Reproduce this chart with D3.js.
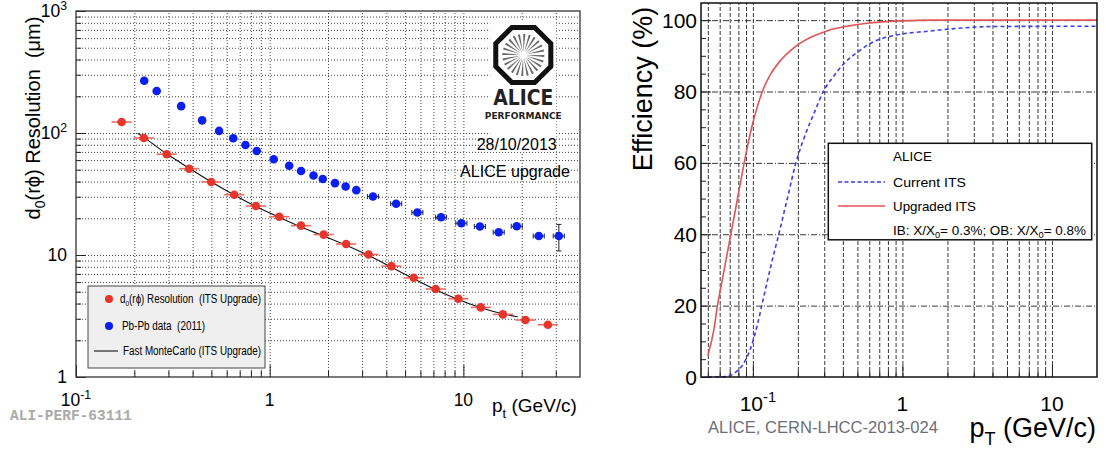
<!DOCTYPE html>
<html><head><meta charset="utf-8">
<script src="https://cdn.jsdelivr.net/npm/d3@7"></script>
<style>
body{margin:0;background:#fff;}
svg{display:block;font-family:"Liberation Sans",Arial,Helvetica,sans-serif;}
text{white-space:pre;}
</style>
</head><body><svg id="c" width="1106" height="460"></svg>
<script>
// ---------------- DATA ----------------
// Left panel: impact-parameter resolution vs pt
const leftXMajor = [0.1, 1, 10];
const leftXMajorBase = ["10", "1", "10"];
const leftXMajorExp = ["-1", "", ""];
const leftXMinor = [0.2,0.3,0.4,0.5,0.6,0.7,0.8,0.9,2,3,4,5,6,7,8,9,20,30];
const leftYMajor = [1, 10, 100, 1000];
const leftYMajorBase = ["1", "10", "10", "10"];
const leftYMajorExp = ["", "", "2", "3"];
const leftYMinor = [2,3,4,5,6,7,8,9,20,30,40,50,60,70,80,90,200,300,400,500,600,700,800,900];

const redPt  = [0.172,0.224,0.294,0.384,0.499,0.656,0.849,1.12,1.45,1.90,2.48,3.24,4.25,5.54,7.19,9.42,12.3,16.0,20.9,27.3];
const redRes = [123,91,67,51,39.7,31.2,25.2,20.6,17.4,14.7,12.3,10.1,8.1,6.5,5.26,4.38,3.72,3.26,2.93,2.68];
const redPtErrFactor = 1.127;

const bluePt  = [0.225,0.261,0.349,0.448,0.548,0.648,0.750,0.857,1.049,1.261,1.452,1.684,1.879,2.173,2.467,2.80,3.414,4.496,5.787,7.67,9.76,12.17,15.22,18.86,24.5,31.1];
const blueRes = [268,221,166,127,104,90.5,79.7,71.2,60.9,53.9,48.8,44.8,42.0,38.8,36.4,34.0,30.2,26.3,22.3,20.4,18.2,17.1,15.35,17.2,14.3,14.3];
const bluePtErrFactor = [1,1,1,1,1,1,1,1,1,1,1,1,1,1,1,1,1.068,1.068,1.068,1.068,1.068,1.068,1.068,1.068,1.068,1.068];
const blueResErr = [0,0,0,0,0,0,0,0,0,0,0,0,0,0,0,0,0,0,0,0,0,0,0,0,0,3.5];

const mcPt  = [0.208,0.224,0.294,0.384,0.499,0.656,0.849,1.12,1.45,1.90,2.48,3.24,4.25,5.54,7.19,9.42,12.3,16.0,19.1];
const mcRes = [99.4,92,67.5,51.5,39.8,31,25,20.4,17.0,14.3,12.0,9.9,7.95,6.4,5.2,4.32,3.7,3.3,3.12];

// Right panel: tracking efficiency vs pT
const rightXMajor = [0.1, 1, 10];
const rightXMajorBase = ["10", "1", "10"];
const rightXMajorExp = ["-1", "", ""];
const rightXMinor = [0.05,0.06,0.07,0.08,0.09,0.2,0.3,0.4,0.5,0.6,0.7,0.8,0.9,2,3,4,5,6,7,8,9];
const rightYMajor = [0, 20, 40, 60, 80, 100];
const rightYMinor = [5,10,15,25,30,35,45,50,55,65,70,75,85,90,95];

const upgPt  = [0.05,0.055,0.058,0.062,0.066,0.072,0.08,0.087,0.097,0.105,0.117,0.13,0.154,0.18,0.205,0.25,0.3,0.36,0.44,0.6,0.8,1.0,1.5,2,5,20];
const upgEff = [6,13.5,20,26.5,32.6,41,51.3,59.5,69,74.5,80.5,84.5,88.8,91.6,93.4,95.4,96.7,97.7,98.4,99.2,99.6,99.8,100,100,100,100];

const curPt  = [0.05,0.06,0.065,0.07,0.075,0.08,0.085,0.09,0.095,0.1,0.107,0.114,0.13,0.149,0.17,0.194,0.22,0.26,0.296,0.35,0.41,0.52,0.6,0.9,1.5,2.5,4,20];
const curEff = [0,0,0.1,0.4,1,2,3.2,5,7.2,10,14.5,19.5,30,40,50,60,67,74.5,80,84.5,88,91.5,93.3,95.8,96.9,97.8,98.2,98.3];

// ---------------- DRAW ----------------
const svg = d3.select("#c");

// ===== LEFT PANEL =====
const L = {x0:76, x1:580, y0:11, y1:377};
const lx = d3.scaleLog().domain([0.1, 40]).range([L.x0, L.x1]);
const ly = d3.scaleLog().domain([1, 1000]).range([L.y1, L.y0]);
const gl = svg.append("g");

// grid
gl.append("g").attr("transform",`translate(0,${L.y1})`)
  .call(d3.axisBottom(lx).tickValues(leftXMinor.concat([1,10])).tickSize(-(L.y1-L.y0)).tickFormat(""))
  .call(g=>{g.select(".domain").remove();g.selectAll("line").attr("stroke","#444").attr("stroke-dasharray","1,2");});
gl.append("g").attr("transform",`translate(${L.x0},0)`)
  .call(d3.axisLeft(ly).tickValues(leftYMinor.concat([10,100])).tickSize(-(L.x1-L.x0)).tickFormat(""))
  .call(g=>{g.select(".domain").remove();g.selectAll("line").attr("stroke","#444").attr("stroke-dasharray","1,2");});

// ticks
function ticks(g){g.select(".domain").remove();g.selectAll("line").attr("stroke","#222");}
gl.append("g").attr("transform",`translate(0,${L.y1})`).call(d3.axisBottom(lx).tickValues(leftXMajor).tickSize(-12).tickFormat("")).call(ticks);
gl.append("g").attr("transform",`translate(0,${L.y1})`).call(d3.axisBottom(lx).tickValues(leftXMinor).tickSize(-6).tickFormat("")).call(ticks);
gl.append("g").attr("transform",`translate(${L.x0},0)`).call(d3.axisLeft(ly).tickValues(leftYMajor).tickSize(-10).tickFormat("")).call(ticks);
gl.append("g").attr("transform",`translate(${L.x0},0)`).call(d3.axisLeft(ly).tickValues(leftYMinor).tickSize(-5).tickFormat("")).call(ticks);

// frame
gl.append("rect").attr("x",L.x0).attr("y",L.y0).attr("width",L.x1-L.x0).attr("height",L.y1-L.y0)
  .attr("fill","none").attr("stroke","#333").attr("stroke-width",1.3);

// tick labels
function supText(g, x, y, base, exp, size, anchor){
  const t = g.append("text").attr("x",x).attr("y",y).attr("font-size",size).attr("text-anchor",anchor).attr("fill","#000");
  t.append("tspan").text(base);
  if(exp) t.append("tspan").attr("dy",-size*0.42).attr("font-size",size*0.7).text(exp);
  return t;
}
leftXMajor.forEach((v,i)=>supText(gl, lx(v), 406, leftXMajorBase[i], leftXMajorExp[i], 17.5, "middle"));
leftYMajor.forEach((v,i)=>supText(gl, 67, ly(v)+6, leftYMajorBase[i], leftYMajorExp[i], 17.5, "end"));

// axis titles
{
  const t = gl.append("text").attr("transform","translate(40,118) rotate(-90)").attr("text-anchor","middle").attr("font-size",20);
  t.append("tspan").text("d");
  t.append("tspan").attr("dy",5).attr("font-size",14).text("0");
  t.append("tspan").attr("dy",-5).text("(rϕ) Resolution  (μm)");
  const p = gl.append("text").attr("x",492).attr("y",411.5).attr("font-size",19);
  p.append("tspan").text("p");
  p.append("tspan").attr("dy",6).attr("font-size",13).text("t");
  p.append("tspan").attr("dy",-6).text(" (GeV/c)");
}
gl.append("text").attr("x",10).attr("y",420).attr("font-family","'Liberation Mono','DejaVu Sans Mono',monospace")
  .attr("font-weight","bold").attr("font-size",14.5).attr("fill","#aaa").text("ALI-PERF-63111");

// MC line
gl.append("path").datum(mcPt.map((p,i)=>[p,mcRes[i]]))
  .attr("d",d3.line().x(d=>lx(d[0])).y(d=>ly(d[1])).curve(d3.curveMonotoneX))
  .attr("fill","none").attr("stroke","#111").attr("stroke-width",1.1);

// red points
const red = "#e8352b", blue = "#0a1ff2";
gl.append("g").selectAll("line").data(redPt).join("line")
  .attr("x1",d=>lx(d/redPtErrFactor)).attr("x2",d=>lx(d*redPtErrFactor))
  .attr("y1",(d,i)=>ly(redRes[i])).attr("y2",(d,i)=>ly(redRes[i]))
  .attr("stroke","#ec6a60").attr("stroke-width",1.6);
gl.append("g").selectAll("circle").data(redPt).join("circle")
  .attr("cx",d=>lx(d)).attr("cy",(d,i)=>ly(redRes[i])).attr("r",4.3).attr("fill",red);

// blue points with errors
const be = gl.append("g").attr("stroke","#333").attr("stroke-width",1.1);
bluePt.forEach((p,i)=>{
  const y = ly(blueRes[i]);
  if(bluePtErrFactor[i]>1){
    const xa = lx(p/bluePtErrFactor[i]), xb = lx(p*bluePtErrFactor[i]);
    be.append("line").attr("x1",xa).attr("x2",xb).attr("y1",y).attr("y2",y);
    be.append("line").attr("x1",xa).attr("x2",xa).attr("y1",y-2.5).attr("y2",y+2.5);
    be.append("line").attr("x1",xb).attr("x2",xb).attr("y1",y-2.5).attr("y2",y+2.5);
  }
  if(blueResErr[i]>0){
    const x = lx(p), ya = ly(blueRes[i]+blueResErr[i]), yb = ly(blueRes[i]-blueResErr[i]);
    be.append("line").attr("x1",x).attr("x2",x).attr("y1",ya).attr("y2",yb);
    be.append("line").attr("x1",x-2.5).attr("x2",x+2.5).attr("y1",ya).attr("y2",ya);
    be.append("line").attr("x1",x-2.5).attr("x2",x+2.5).attr("y1",yb).attr("y2",yb);
  }
});
gl.append("g").selectAll("circle").data(bluePt).join("circle")
  .attr("cx",d=>lx(d)).attr("cy",(d,i)=>ly(blueRes[i])).attr("r",4.3).attr("fill",blue);

// legend (left)
gl.append("rect").attr("x",88).attr("y",286).attr("width",177).attr("height",82)
  .attr("fill","#efefef").attr("stroke","#444").attr("stroke-width",1);
gl.append("circle").attr("cx",109).attr("cy",299).attr("r",4).attr("fill",red);
gl.append("circle").attr("cx",109).attr("cy",326).attr("r",4).attr("fill",blue);
gl.append("line").attr("x1",94).attr("x2",118).attr("y1",351).attr("y2",351).attr("stroke","#111").attr("stroke-width",1.1);
{
  const t1 = gl.append("text").attr("x",120).attr("y",303).attr("font-size",12)
    .attr("textLength",141).attr("lengthAdjust","spacingAndGlyphs");
  t1.append("tspan").text("d");
  t1.append("tspan").attr("dy",3).attr("font-size",8).text("0");
  t1.append("tspan").attr("dy",-3).text("(rϕ) Resolution  (ITS Upgrade)");
  gl.append("text").attr("x",122).attr("y",330).attr("font-size",12)
    .attr("textLength",83).attr("lengthAdjust","spacingAndGlyphs").text("Pb-Pb data  (2011)");
  gl.append("text").attr("x",123).attr("y",355).attr("font-size",12)
    .attr("textLength",138).attr("lengthAdjust","spacingAndGlyphs").text("Fast MonteCarlo (ITS Upgrade)");
}

// ALICE logo
{
  const cx = 523.3, cy = 55, rv = 29.8;
  const oct = d3.range(8).map(k=>{const a = Math.PI/8 + k*Math.PI/4; return [cx+rv*Math.cos(a), cy+rv*Math.sin(a)];});
  gl.append("rect").attr("x",cx-33).attr("y",cy-33).attr("width",66).attr("height",130).attr("fill","#fff");
  gl.append("path").attr("d",d3.line()(oct)+"Z").attr("fill","#fff").attr("stroke","#111").attr("stroke-width",5).attr("stroke-linejoin","miter");
  const sp = gl.append("g");
  d3.range(24).forEach(k=>{
    const a = k*Math.PI/12 + 0.05;
    sp.append("path").attr("d",`M${cx+3*Math.cos(a)},${cy+3*Math.sin(a)}L${cx+21*Math.cos(a-0.05)},${cy+21*Math.sin(a-0.05)}L${cx+21*Math.cos(a+0.05)},${cy+21*Math.sin(a+0.05)}Z`)
      .attr("fill","#666");
  });
  gl.append("text").attr("x",cx).attr("y",105).attr("text-anchor","middle").attr("font-family","'DejaVu Sans',sans-serif")
    .attr("font-weight","bold").attr("font-size",21).attr("textLength",60).attr("lengthAdjust","spacingAndGlyphs").attr("fill","#222").text("ALICE");
  gl.append("text").attr("x",cx).attr("y",118.5).attr("text-anchor","middle").attr("font-family","'DejaVu Sans',sans-serif")
    .attr("font-weight","bold").attr("font-size",9).attr("textLength",77).attr("lengthAdjust","spacingAndGlyphs").attr("fill","#222").text("PERFORMANCE");
}
gl.append("text").attr("x",516.7).attr("y",150).attr("text-anchor","middle").attr("font-size",17)
  .attr("textLength",80).attr("lengthAdjust","spacingAndGlyphs").text("28/10/2013");
gl.append("text").attr("x",515).attr("y",177).attr("text-anchor","middle").attr("font-size",17)
  .attr("textLength",110).attr("lengthAdjust","spacingAndGlyphs").text("ALICE upgrade");

// ===== RIGHT PANEL =====
const R = {x0:701, x1:1097, y0:3, y1:377};
const rx = d3.scaleLog().domain([0.045, 20]).range([R.x0, R.x1]);
const ry = d3.scaleLinear().domain([0, 104.8]).range([R.y1, R.y0]);
const gr = svg.append("g");

gr.append("g").attr("transform",`translate(0,${R.y1})`)
  .call(d3.axisBottom(rx).tickValues(rightXMinor.concat(rightXMajor)).tickSize(-(R.y1-R.y0)).tickFormat(""))
  .call(g=>{g.select(".domain").remove();g.selectAll("line").attr("stroke","#222").attr("stroke-width",0.9).attr("stroke-dasharray","4,2");});
gr.append("g").attr("transform",`translate(${R.x0},0)`)
  .call(d3.axisLeft(ry).tickValues(rightYMajor.slice(1)).tickSize(-(R.x1-R.x0)).tickFormat(""))
  .call(g=>{g.select(".domain").remove();g.selectAll("line").attr("stroke","#222").attr("stroke-width",0.9).attr("stroke-dasharray","6,2,1,2");});

gr.append("g").attr("transform",`translate(${R.x0},0)`).call(d3.axisLeft(ry).tickValues(rightYMajor).tickSize(-10).tickFormat("")).call(ticks);
gr.append("g").attr("transform",`translate(${R.x0},0)`).call(d3.axisLeft(ry).tickValues(rightYMinor).tickSize(-5).tickFormat("")).call(ticks);
gr.append("g").attr("transform",`translate(0,${R.y1})`).call(d3.axisBottom(rx).tickValues(rightXMajor).tickSize(-12).tickFormat("")).call(ticks);
gr.append("g").attr("transform",`translate(0,${R.y1})`).call(d3.axisBottom(rx).tickValues(rightXMinor).tickSize(-6).tickFormat("")).call(ticks);

// curves
const lineR = d3.line().x(d=>rx(d[0])).y(d=>ry(d[1])).curve(d3.curveMonotoneX);
gr.append("path").datum(curPt.map((p,i)=>[p,curEff[i]])).attr("d",lineR)
  .attr("fill","none").attr("stroke","#3c3cf0").attr("stroke-width",1.6).attr("stroke-dasharray","4,3");
gr.append("path").datum(upgPt.map((p,i)=>[p,upgEff[i]])).attr("d",lineR)
  .attr("fill","none").attr("stroke","#e35454").attr("stroke-width",1.6);

gr.append("rect").attr("x",R.x0).attr("y",R.y0).attr("width",R.x1-R.x0).attr("height",R.y1-R.y0)
  .attr("fill","none").attr("stroke","#111").attr("stroke-width",1.5);

// tick labels
rightYMajor.forEach(v=>gr.append("text").attr("x",697).attr("y",ry(v)+7.5).attr("text-anchor","end").attr("font-size",21).text(v));
rightXMajor.forEach((v,i)=>supText(gr, rx(v)+(rightXMajorExp[i]?5:0), 411, rightXMajorBase[i], rightXMajorExp[i], 21, "middle"));

// titles
gr.append("text").attr("transform","translate(652,89) rotate(-90)").attr("text-anchor","middle").attr("font-size",27).text("Efficiency (%)");
{
  const p = gr.append("text").attr("x",1096).attr("y",437).attr("text-anchor","end").attr("font-size",27);
  p.append("tspan").text("p");
  p.append("tspan").attr("dy",8).attr("font-size",18).text("T");
  p.append("tspan").attr("dy",-8).text(" (GeV/c)");
}
gr.append("text").attr("x",708).attr("y",433).attr("font-size",16.5).attr("fill","#6b6e78")
  .attr("textLength",230).attr("lengthAdjust","spacingAndGlyphs").text("ALICE, CERN-LHCC-2013-024");

// legend (right)
gr.append("rect").attr("x",828.3).attr("y",143.3).attr("width",263.4).attr("height",96.5)
  .attr("fill","#fff").attr("stroke","#111").attr("stroke-width",1.5);
gr.append("line").attr("x1",838).attr("x2",885).attr("y1",182).attr("y2",182).attr("stroke","#3c3cf0").attr("stroke-width",1.5).attr("stroke-dasharray","4,2.5");
gr.append("line").attr("x1",838).attr("x2",885).attr("y1",206).attr("y2",206).attr("stroke","#e35454").attr("stroke-width",1.6);
gr.append("text").attr("x",893).attr("y",161).attr("font-size",13).attr("textLength",39).attr("lengthAdjust","spacingAndGlyphs").text("ALICE");
gr.append("text").attr("x",893).attr("y",186.5).attr("font-size",13).attr("textLength",73).attr("lengthAdjust","spacingAndGlyphs").text("Current ITS");
gr.append("text").attr("x",893).attr("y",210.5).attr("font-size",13).attr("textLength",83).attr("lengthAdjust","spacingAndGlyphs").text("Upgraded ITS");
{
  const t = gr.append("text").attr("x",893).attr("y",235).attr("font-size",13).attr("textLength",193).attr("lengthAdjust","spacingAndGlyphs");
  t.append("tspan").text("IB: X/X");
  t.append("tspan").attr("dy",3).attr("font-size",9).text("0");
  t.append("tspan").attr("dy",-3).text("= 0.3%; OB: X/X");
  t.append("tspan").attr("dy",3).attr("font-size",9).text("0");
  t.append("tspan").attr("dy",-3).text("= 0.8%");
}
</script>
</body></html>
